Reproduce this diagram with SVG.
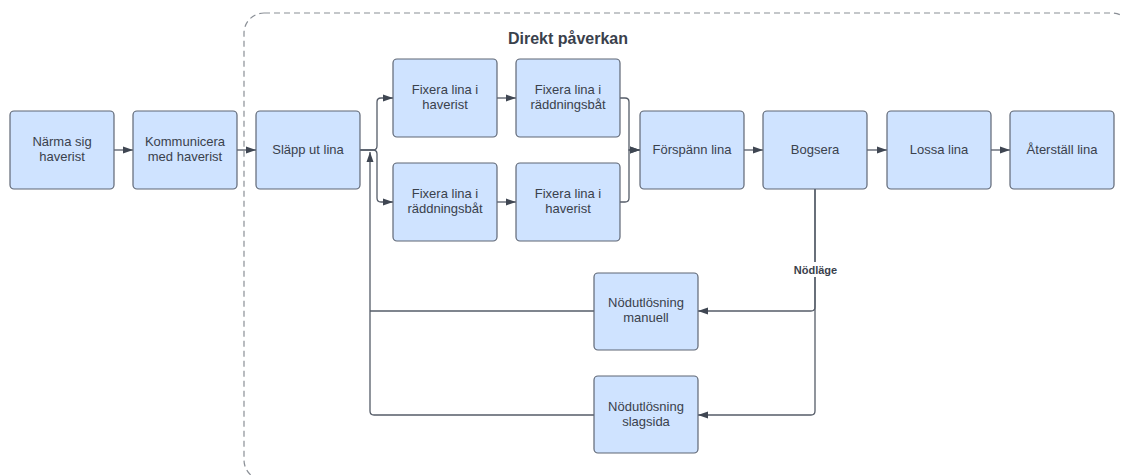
<svg xmlns="http://www.w3.org/2000/svg" width="1122" height="475" viewBox="0 0 1122 475">
<style>
.n rect{fill:#cfe3ff;stroke:#5f6775;stroke-width:1.2}
.n text{font-family:"Liberation Sans",Arial,sans-serif;font-size:13px;fill:#3a414c;text-anchor:middle}
.c path{fill:none;stroke:#555c68;stroke-width:1.3}
.lbl{font-family:"Liberation Sans",Arial,sans-serif;font-weight:bold;fill:#3a414c;text-anchor:middle}
</style>
<defs>
<marker id="ah" markerUnits="userSpaceOnUse" markerWidth="12" markerHeight="10" refX="10" refY="4" orient="auto">
<path d="M0,0.5 L10,4 L0,7.5 z" fill="#3f4652"/>
</marker>
</defs>
<rect width="1122" height="475" fill="#ffffff"/>
<g id="container">
<rect x="244" y="13" width="888" height="467" rx="20" fill="none" stroke="#8a8f96" stroke-width="1.2" stroke-dasharray="6,4"/>
<text class="lbl" x="568" y="44" font-size="16">Direkt påverkan</text>
</g>
<g class="c" id="connectors">
<path d="M114,150 H133" marker-end="url(#ah)"/>
<path d="M237,150 H256" marker-end="url(#ah)"/>
<path d="M360,150 H373 Q377,150 377,146 V102 Q377,98 381,98 H393" marker-end="url(#ah)"/>
<path d="M360,150 H373 Q377,150 377,154 V198 Q377,202 381,202 H393" marker-end="url(#ah)"/>
<path d="M497,98 H516" marker-end="url(#ah)"/>
<path d="M497,202 H516" marker-end="url(#ah)"/>
<path d="M620,98 H625 Q629,98 629,102 V150 H640" marker-end="url(#ah)"/>
<path d="M620,202 H625 Q629,202 629,198 V150 H640" marker-end="url(#ah)"/>
<path d="M744,150 H763" marker-end="url(#ah)"/>
<path d="M867,150 H887" marker-end="url(#ah)"/>
<path d="M990,150 H1010" marker-end="url(#ah)"/>
<path d="M815,189 V307 Q815,311 811,311 H698" marker-end="url(#ah)"/>
<path d="M815,189 V411 Q815,415 811,415 H698" marker-end="url(#ah)"/>
<path d="M594,311 H370"/>
<path d="M594,415 H374 Q370,415 370,411 V152" marker-end="url(#ah)"/>
<rect x="792" y="262" width="47" height="15" fill="#ffffff"/>
<text class="lbl" x="815.5" y="274" font-size="11">Nödläge</text>
</g>
<g class="n" id="n1"><rect x="10" y="111" width="104" height="78" rx="4"/><text x="62" y="146">Närma sig</text><text x="62" y="161">haverist</text></g>
<g class="n" id="n2"><rect x="133" y="111" width="104" height="78" rx="4"/><text x="185" y="146">Kommunicera</text><text x="185" y="161">med haverist</text></g>
<g class="n" id="n3"><rect x="256" y="111" width="104" height="78" rx="4"/><text x="308" y="154">Släpp ut lina</text></g>
<g class="n" id="n4"><rect x="393" y="59" width="104" height="78" rx="4"/><text x="445" y="94">Fixera lina i</text><text x="445" y="109">haverist</text></g>
<g class="n" id="n5"><rect x="516" y="59" width="104" height="78" rx="4"/><text x="568" y="94">Fixera lina i</text><text x="568" y="109">räddningsbåt</text></g>
<g class="n" id="n6"><rect x="393" y="163" width="104" height="78" rx="4"/><text x="445" y="198">Fixera lina i</text><text x="445" y="213">räddningsbåt</text></g>
<g class="n" id="n7"><rect x="516" y="163" width="104" height="78" rx="4"/><text x="568" y="198">Fixera lina i</text><text x="568" y="213">haverist</text></g>
<g class="n" id="n8"><rect x="640" y="111" width="104" height="78" rx="4"/><text x="692" y="154">Förspänn lina</text></g>
<g class="n" id="n9"><rect x="763" y="111" width="104" height="78" rx="4"/><text x="815" y="154">Bogsera</text></g>
<g class="n" id="n10"><rect x="887" y="111" width="104" height="78" rx="4"/><text x="939" y="154">Lossa lina</text></g>
<g class="n" id="n11"><rect x="1010" y="111" width="104" height="78" rx="4"/><text x="1062" y="154">Återställ lina</text></g>
<g class="n" id="n12"><rect x="594" y="273" width="104" height="77" rx="4"/><text x="646" y="307">Nödutlösning</text><text x="646" y="322">manuell</text></g>
<g class="n" id="n13"><rect x="594" y="376" width="104" height="77" rx="4"/><text x="646" y="411">Nödutlösning</text><text x="646" y="426">slagsida</text></g>
</svg>
